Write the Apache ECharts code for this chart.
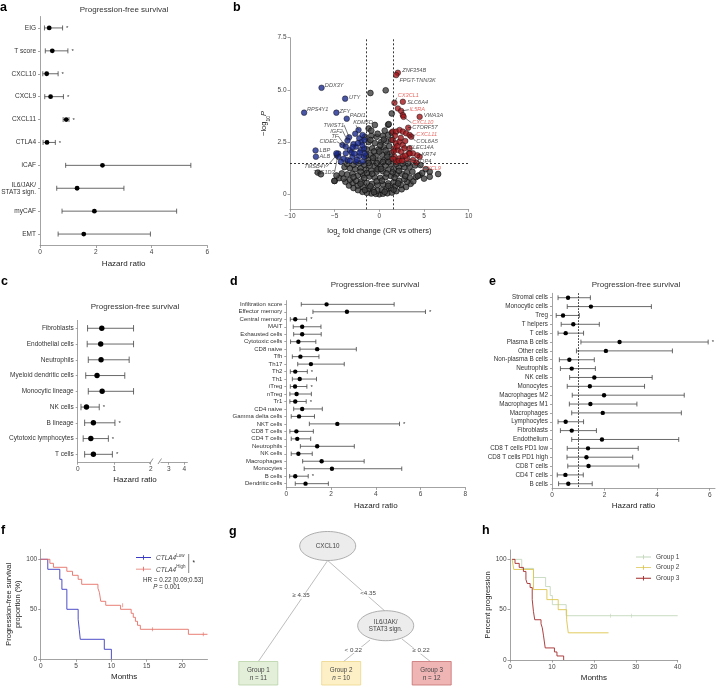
<!DOCTYPE html>
<html lang="en">
<head>
<meta charset="UTF-8">
<title>Progression-free survival figure</title>
<script src="https://cdn.jsdelivr.net/npm/echarts@6.0.0/dist/echarts.min.js"></script>
<style>
html, body { margin: 0; padding: 0; background: #fff; }
#main { width: 723px; height: 686px; }
</style>
</head>
<body>
<div id="main"></div>
<script>
var FONT = 'Liberation Sans';

// ---- panel a : gene signatures
var aNames = ['EIG', 'T score', 'CXCL10', 'CXCL9', 'CXCL11', 'CTLA4', 'iCAF', 'IL6/JAK/\nSTAT3 sign.', 'myCAF', 'EMT'];
var aHR   = [0.33, 0.44, 0.24, 0.38, 0.94, 0.25, 2.24, 1.33, 1.95, 1.57];
var aLow  = [0.16, 0.19, 0.10, 0.17, 0.83, 0.11, 0.92, 0.60, 0.79, 0.65];
var aHigh = [0.81, 1.00, 0.65, 0.84, 1.04, 0.55, 5.41, 3.01, 4.90, 3.96];
var aSig  = [1, 1, 1, 1, 1, 1, 0, 0, 0, 0];

// ---- panel b : volcano
var volcGray = [
  [0, 0], [-0.4, 0.02], [0.4, 0.03], [-0.9, 0.04], [0.9, 0.05], [-1.4, 0.07], [1.4, 0.08], [-1.9, 0.12], [1.9, 0.15], [-2.4, 0.2], [2.5, 0.24], [-2.9, 0.3], [3.0, 0.35], [-3.4, 0.42], [3.5, 0.5],
  [-0.2, 0.18], [0.3, 0.2], [-0.7, 0.22], [0.8, 0.25], [-1.2, 0.28], [1.3, 0.3], [-1.8, 0.34], [1.8, 0.4], [-2.4, 0.42], [2.4, 0.45], [-3.0, 0.55], [3.1, 0.6], [3.8, 0.62], [-3.8, 0.6],
  [-5.0, 0.64], [-4.5, 0.77], [-4.0, 0.75], [-3.3, 0.7], [-2.6, 0.65], [-2.0, 0.62], [-1.4, 0.55], [-0.8, 0.5], [-0.2, 0.45], [0.4, 0.48], [1.0, 0.52], [1.6, 0.58], [2.2, 0.65], [2.8, 0.72], [3.4, 0.8], [4.1, 0.82], [4.5, 0.92],
  [-4.2, 1.0], [-3.6, 0.95], [-3.0, 0.98], [-2.4, 0.9], [-1.8, 0.92], [-1.1, 0.85], [-0.5, 0.8], [0.1, 0.78], [0.7, 0.82], [1.3, 0.88], [1.9, 0.95], [2.5, 0.98], [3.1, 1.05], [3.7, 1.08], [4.8, 1.02], [5.2, 1.2],
  [-3.9, 1.3], [-3.3, 1.25], [-2.7, 1.2], [-2.1, 1.25], [-1.5, 1.18], [-0.9, 1.12], [-0.3, 1.08], [0.4, 1.1], [1.0, 1.18], [1.6, 1.2], [2.2, 1.28], [2.8, 1.3], [3.4, 1.32], [4.0, 1.38], [4.6, 1.4],
  [-3.6, 1.45], [-2.9, 1.42], [-2.3, 1.48], [-1.7, 1.42], [-1.1, 1.38], [-0.5, 1.35], [0.1, 1.32], [0.7, 1.38], [1.3, 1.45], [1.9, 1.46], [2.6, 1.47], [3.2, 1.48],
  [-1.3, 1.65], [-0.7, 1.6], [0, 1.62], [0.6, 1.65], [1.2, 1.7], [-1.0, 1.9], [-0.4, 1.85], [0.3, 1.9], [0.9, 1.95], [1.4, 2.0], [-1.4, 2.15], [-0.8, 2.2], [-0.1, 2.15], [0.5, 2.25], [1.1, 2.3],
  [-1.2, 2.5], [-0.5, 2.45], [0.2, 2.5], [0.8, 2.55], [1.35, 2.6], [-1.6, 2.75], [-0.9, 2.8], [-0.3, 2.75], [0.4, 2.8], [1.0, 2.85], [1.4, 2.95], [-1.2, 3.15], [-0.5, 3.32], [0.98, 3.33], [1.05, 3.36], [1.39, 3.87], [-1.0, 4.85], [0.71, 4.98],
  [-0.6, 0.1], [0.6, 0.12], [-1.6, 0.2], [1.6, 0.22], [-2.1, 0.5], [2.1, 0.52], [-1.0, 0.38], [1.0, 0.4], [-0.3, 0.62], [0.3, 0.65], [-1.7, 0.78], [1.7, 0.8], [-2.9, 0.82], [2.9, 0.88],
  [-0.8, 0.98], [0.8, 1.0], [-1.4, 1.02], [1.5, 1.05], [-2.1, 1.08], [2.2, 1.12], [-0.2, 1.2], [0.2, 1.22], [-1.2, 1.5], [1.0, 1.55], [-0.3, 1.5], [0.4, 1.55],
  [-0.7, 1.75], [0.9, 1.8], [-1.5, 1.85], [0, 2.05], [-0.6, 2.05], [0.7, 2.1], [-0.2, 2.9], [0.6, 3.05], [-0.9, 3.05], [0.1, 2.35], [-1.0, 2.6], [0.5, 2.62],
  [-6.88, 1.04], [-6.54, 0.96], [-5.04, 0.64], [5.64, 1.08], [5.64, 0.84], [6.58, 0.97], [4.3, 0.88], [-4.8, 0.9], [5.0, 0.75]
];
var volcBlue = [
  [-6.47, 5.1], [-3.83, 4.58], [-8.42, 3.91], [-4.81, 3.91], [-3.65, 3.62], [-7.14, 2.1], [-7.1, 1.8], [-4.77, 1.88], [-4.6, 1.95], [-2.33, 3.08],
  [-3.38, 2.73], [-3.57, 2.57], [-4.13, 2.36], [-3.76, 2.28], [-3.31, 2.12], [-2.63, 2.28], [-2.25, 2.68], [-1.88, 2.84], [-2.07, 2.12], [-3.76, 1.96], [-3.01, 1.8], [-2.25, 1.83], [-1.69, 1.8], [-3.57, 1.64], [-2.63, 1.56], [-1.88, 1.56], [-4.59, 1.8], [-4.81, 1.96],
  [-2.9, 2.4], [-2.0, 2.5], [-1.7, 2.2], [-3.1, 2.0], [-2.5, 1.65], [-1.6, 1.95], [-2.2, 2.0], [-3.3, 1.6], [-4.0, 1.7], [-2.7, 2.9], [-1.9, 2.35], [-2.4, 2.45], [-3.0, 2.25], [-1.65, 2.6], [-2.8, 1.95], [-4.3, 1.55]
];
var volcRed = [
  [2.07, 5.82], [1.88, 5.71], [1.69, 4.38], [2.63, 4.43], [2.07, 4.11], [2.44, 3.99], [2.63, 3.79], [2.71, 3.71], [4.51, 3.71], [3.23, 3.19],
  [1.5, 3.0], [1.88, 3.0], [2.26, 3.08], [2.63, 3.0], [3.0, 2.92], [3.38, 2.84], [3.57, 2.76],
  [1.5, 2.6], [1.88, 2.44], [2.26, 2.52], [2.63, 2.36], [1.69, 2.2], [2.07, 2.12], [2.44, 2.04], [2.82, 2.2], [1.69, 1.8], [2.26, 1.72], [2.63, 1.8], [1.88, 1.55], [3.38, 2.2], [3.31, 1.96], [3.76, 1.96], [4.51, 1.8], [4.14, 1.52], [3.76, 1.64], [4.25, 1.87], [3.38, 1.95],
  [1.6, 2.05], [2.0, 2.3], [2.4, 2.7], [1.75, 2.8], [2.9, 2.55], [3.1, 1.7], [2.2, 1.6], [1.55, 1.7], [2.55, 1.6], [2.9, 1.85]
];
// [text, x, y, colour (k/r), align]
var volcLabels = [
  ['ZNF354B', 2.56, 5.95, 'k', 'left'], ['FPGT-TNNI3K', 2.25, 5.47, 'k', 'left'],
  ['DDX3Y', -6.1, 5.2, 'k', 'left'], ['UTY', -3.4, 4.62, 'k', 'left'],
  ['CX3CL1', 2.06, 4.72, 'r', 'left'], ['SLC6A4', 3.12, 4.4, 'k', 'left'],
  ['RPS4Y1', -8.1, 4.08, 'k', 'left'], ['ZFY', -4.45, 3.97, 'k', 'left'],
  ['IL5RA', 3.38, 4.05, 'r', 'left'], ['PADI1', -3.3, 3.78, 'k', 'left'],
  ['VWA3A', 4.96, 3.76, 'k', 'left'], ['TWIST1', -3.95, 3.32, 'k', 'right'],
  ['KDM5D', -2.93, 3.43, 'k', 'left'], ['CXCL10', 3.69, 3.44, 'r', 'left'],
  ['C7ORF57', 3.69, 3.2, 'k', 'left'], ['IGF2', -4.1, 3.03, 'k', 'right'],
  ['TF', -4.6, 2.79, 'k', 'right'], ['CIDEC', -4.75, 2.52, 'k', 'right'],
  ['CXCL11', 4.14, 2.85, 'r', 'left'], ['COL6A5', 4.14, 2.54, 'k', 'left'],
  ['LBP', -6.69, 2.12, 'k', 'left'], ['CLEC14A', 3.3, 2.25, 'k', 'left'],
  ['ALB', -6.69, 1.82, 'k', 'left'], ['KRT4', 4.73, 1.91, 'k', 'left'],
  ['AQP4', 4.14, 1.59, 'k', 'left'], ['TMSB4Y', -5.9, 1.32, 'k', 'right'],
  ['TBC1D3', -5.0, 1.06, 'k', 'right'], ['CXCL9', 4.88, 1.24, 'r', 'left']
];
var volcLeaders = [
  [[1.95, 4.62], [1.69, 4.38]], [[3.3, 4.05], [2.5, 3.99]], [[3.6, 3.42], [2.75, 3.7]],
  [[4.05, 2.85], [3.6, 2.76]], [[4.05, 2.55], [3.38, 2.84]], [[3.2, 2.25], [2.82, 2.2]],
  [[4.65, 1.91], [4.25, 1.87]], [[4.05, 1.6], [3.1, 1.7]], [[4.8, 1.26], [4.14, 1.52]],
  [[3.6, 3.2], [3.23, 3.19]], [[-3.95, 3.32], [-3.38, 2.73]], [[-2.6, 3.3], [-2.33, 3.08]],
  [[-4.1, 3.03], [-3.57, 2.57]], [[-4.6, 2.79], [-3.76, 2.28]], [[-4.75, 2.52], [-4.13, 2.36]],
  [[-5.9, 1.32], [-4.77, 1.88]], [[-5.0, 1.08], [-4.6, 1.95]]
];

// ---- panel c : cell lineages
var cNames = ['Fibroblasts', 'Endothelial cells', 'Neutrophils', 'Myeloid dendritic cells', 'Monocytic lineage', 'NK cells', 'B lineage', 'Cytotoxic lymphocytes', 'T cells'];
var cHR   = [0.66, 0.63, 0.64, 0.53, 0.67, 0.24, 0.43, 0.36, 0.43];
var cLow  = [0.27, 0.26, 0.29, 0.22, 0.29, 0.09, 0.19, 0.15, 0.19];
var cHigh = [1.53, 1.53, 1.41, 1.29, 1.53, 0.59, 1.02, 0.84, 0.95];
var cSig  = [0, 0, 0, 0, 0, 1, 1, 1, 1];

// ---- panel d : immune subsets
var dNames = ['Infiltration score', 'Effector memory', 'Central memory', 'MAIT', 'Exhausted cells', 'Cytotoxic cells', 'CD8 naive', 'Tfh', 'Th17', 'Th2', 'Th1', 'iTreg', 'nTreg', 'Tr1', 'CD4 naive', 'Gamma delta cells', 'NKT cells', 'CD8 T cells', 'CD4 T cells', 'Neutrophils', 'NK cells', 'Macrophages', 'Monocytes', 'B cells', 'Dendritic cells'];
var dHR   = [1.80, 2.71, 0.40, 0.71, 0.71, 0.54, 1.38, 0.63, 1.10, 0.40, 0.60, 0.39, 0.46, 0.40, 0.71, 0.57, 2.28, 0.45, 0.49, 1.38, 0.54, 1.58, 2.04, 0.40, 0.86];
var dLow  = [0.67, 1.19, 0.18, 0.31, 0.33, 0.19, 0.61, 0.27, 0.51, 0.18, 0.27, 0.18, 0.16, 0.16, 0.33, 0.22, 1.03, 0.16, 0.22, 0.63, 0.22, 0.73, 0.80, 0.15, 0.40];
var dHigh = [4.82, 6.22, 0.91, 1.55, 1.56, 1.32, 3.13, 1.46, 2.59, 0.94, 1.35, 0.92, 1.12, 0.89, 1.61, 1.26, 5.06, 1.21, 1.09, 3.04, 1.16, 3.48, 5.16, 0.98, 1.88];
var dSig  = [0, 1, 1, 0, 0, 0, 0, 0, 0, 1, 0, 1, 0, 1, 0, 0, 1, 0, 0, 0, 0, 0, 0, 1, 0];

// ---- panel e : deconvolution
var eNames = ['Stromal cells', 'Monocytic cells', 'Treg', 'T helpers', 'T cells', 'Plasma B cells', 'Other cells', 'Non-plasma B cells', 'Neutrophils', 'NK cells', 'Monocytes', 'Macrophages M2', 'Macrophages M1', 'Macrophages', 'Lymphocytes', 'Fibroblasts', 'Endothelium', 'CD8 T cells PD1 low', 'CD8 T cells PD1 high', 'CD8 T cells', 'CD4 T cells', 'B cells'];
var eHR   = [0.61, 1.48, 0.42, 0.81, 0.52, 2.57, 2.05, 0.66, 0.75, 1.61, 1.44, 1.98, 1.46, 1.93, 0.52, 0.75, 1.90, 1.37, 1.31, 1.39, 0.51, 0.62];
var eLow  = [0.23, 0.58, 0.16, 0.35, 0.23, 1.10, 0.93, 0.28, 0.32, 0.67, 0.58, 0.77, 0.66, 0.75, 0.23, 0.32, 0.75, 0.58, 0.57, 0.60, 0.20, 0.25];
var eHigh = [1.46, 3.78, 1.04, 1.80, 1.20, 5.94, 4.58, 1.61, 1.65, 3.81, 3.52, 5.03, 3.23, 4.92, 1.20, 1.69, 4.82, 3.28, 3.07, 3.30, 1.19, 1.53];
var eSig  = [0, 0, 0, 0, 0, 1, 0, 0, 0, 0, 0, 0, 0, 0, 0, 0, 0, 0, 0, 0, 0, 0];

// ---- panel f : KM by CTLA4
var fLow  = [[0, 100], [1.0, 90], [2.7, 80], [3.0, 70], [3.7, 50], [5.3, 40], [5.45, 30], [5.6, 20], [9.0, 10], [10.0, 0]];
var fHigh = [[0, 100], [1.3, 96], [1.8, 92], [3.7, 88], [4.5, 84], [5.3, 80], [5.8, 75], [8.1, 71], [8.3, 67], [8.5, 58], [9.2, 54], [11.3, 50], [12.8, 46], [13.1, 42], [13.4, 38], [13.7, 34], [14.1, 30], [20.9, 25], [23.6, 25]];
var fCensor = [[11.6, 54], [15.8, 30], [23.0, 25]];

// ---- panel g : tree
var treeSplits = ['CXCL10', 'IL6/JAK/\nSTAT3 sign.'];
var treeRules  = ['≥ 4.35', '<4.35', '< 0.22', '≥ 0.22'];
var treeGroups = ['Group 1', 'Group 2', 'Group 3'];
var treeN      = [11, 10, 12];

// ---- panel h : KM by group
var hG1 = [[0.5, 100], [2.8, 91], [5.6, 82], [8.5, 73], [9.6, 64], [10.1, 55], [13.4, 44], [40, 44]];
var hG2 = [[0.5, 100], [0.9, 90], [5.6, 70], [8.8, 60], [11.5, 50], [13.5, 40], [13.9, 27], [23.5, 27]];
var hG3 = [[0.5, 100], [1.2, 96], [2.2, 92], [3.2, 88], [3.8, 80], [4.1, 76], [4.8, 72], [5.3, 60], [5.6, 48], [5.9, 40], [7.4, 36], [7.7, 32], [8.0, 24], [8.4, 12], [10.6, 8], [11.2, 4], [12.8, 0]];
var hCensor = [[24, 44], [29, 44]];

var kmColors = { 'CTLA4Low': '#3a3ac4', 'CTLA4High': '#e66f66', 'Group 1': '#c3d8bb', 'Group 2': '#dcc54c', 'Group 3': '#a52a2a' };

var chartDom = document.getElementById('main');
var myChart = echarts.init(chartDom, null, { renderer: 'canvas' });

var axisGray = { lineStyle: { color: '#8c8c8c', width: 0.8 } };

function forestData(hr, lo, hi, sig) {
  return hr.map(function (v, i) { return [v, lo[i], hi[i], i, sig[i]]; });
}

// error bar + dot + star
function makeForest(r, cap) {
  return function (params, api) {
    var y = api.value(3);
    var p = api.coord([api.value(0), y]);
    var a = api.coord([api.value(1), y]);
    var b = api.coord([api.value(2), y]);
    var st = { stroke: '#444', lineWidth: 0.8 };
    var kids = [
      { type: 'line', shape: { x1: a[0], y1: a[1], x2: b[0], y2: b[1] }, style: st },
      { type: 'line', shape: { x1: a[0], y1: a[1] - cap, x2: a[0], y2: a[1] + cap }, style: st },
      { type: 'line', shape: { x1: b[0], y1: b[1] - cap, x2: b[0], y2: b[1] + cap }, style: st },
      { type: 'circle', shape: { cx: p[0], cy: p[1], r: r }, style: { fill: '#000' } }
    ];
    if (api.value(4)) {
      kids.push({ type: 'text', x: b[0] + 3.5, y: p[1] + 0.5, style: { text: '*', fontSize: 6, fill: '#333', fontFamily: FONT, verticalAlign: 'middle' } });
    }
    return { type: 'group', children: kids };
  };
}

function valAxis(g, min, max, extra) {
  var ax = {
    gridIndex: g, type: 'value', min: min, max: max,
    axisLine: { show: true, onZero: false, lineStyle: axisGray.lineStyle },
    axisTick: { show: true, length: 2.5, lineStyle: axisGray.lineStyle },
    splitLine: { show: false },
    axisLabel: { fontSize: 6.5, color: '#444', fontFamily: FONT, margin: 3.5 },
    nameTextStyle: { fontSize: 8, color: '#222', fontFamily: FONT }
  };
  for (var k in extra) {
    if (typeof extra[k] === 'object' && ax[k] && !Array.isArray(extra[k])) {
      for (var kk in extra[k]) ax[k][kk] = extra[k][kk];
    } else ax[k] = extra[k];
  }
  return ax;
}

// row axis: value axis whose integer ticks carry the row names
function rowAxis(g, names, fs, show) {
  var idx = names.map(function (n, i) { return i; });
  return {
    gridIndex: g, type: 'value', inverse: true, min: -0.5, max: names.length - 0.5, show: show !== false,
    axisLine: { show: true, onZero: false, lineStyle: axisGray.lineStyle },
    axisTick: { show: true, length: 2, lineStyle: axisGray.lineStyle, customValues: idx },
    axisLabel: {
      customValues: idx, fontSize: fs, color: '#333', fontFamily: FONT, margin: 4, lineHeight: fs + 0.5,
      formatter: function (v) { return names[Math.round(v)]; }
    },
    splitLine: { show: false }
  };
}

function txt(x, y, s, fs, extra) {
  var st = { text: s, fontSize: fs, fill: '#222', fontFamily: FONT, align: 'center', verticalAlign: 'middle' };
  for (var k in extra) st[k] = extra[k];
  return { type: 'text', x: x, y: y, style: st, silent: true };
}

// ---- static texts: panel letters, titles
var graphics = [];
[['a', 0, 8], ['b', 233, 8], ['c', 1, 282], ['d', 230, 282], ['e', 489, 282], ['f', 1, 531], ['g', 229, 532], ['h', 482, 531]].forEach(function (l) {
  graphics.push(txt(l[1], l[2], l[0], 12.5, { fontWeight: 'bold', align: 'left', fill: '#000' }));
});
[[124, 10], [135, 306.7], [375, 284.5], [636, 284.5]].forEach(function (t) {
  graphics.push(txt(t[0], t[1], 'Progression-free survival', 8, { fill: '#333' }));
});
graphics.push(txt(135, 479.5, 'Hazard ratio', 8, { fill: '#222' }));
// broken axis marks on panel c
graphics.push({ type: 'line', shape: { x1: 149.5, y1: 464, x2: 153, y2: 458.5 }, style: { stroke: '#777', lineWidth: 0.8 } });
graphics.push({ type: 'line', shape: { x1: 158, y1: 464, x2: 161.5, y2: 458.5 }, style: { stroke: '#777', lineWidth: 0.8 } });

// panel f annotations
graphics.push({ type: 'line', shape: { x1: 188.7, y1: 554, x2: 188.7, y2: 573 }, style: { stroke: '#555', lineWidth: 0.7 } });
graphics.push(txt(192.5, 563, '*', 6.5, { align: 'left' }));
graphics.push(txt(173, 580.7, 'HR = 0.22 [0.09;0.53]', 6.3, { fill: '#333' }));
graphics.push({ type: 'text', x: 166.7, y: 587.5, silent: true, style: { text: '{i|P} = 0.001', fontSize: 6.3, fill: '#333', fontFamily: FONT, align: 'center', verticalAlign: 'middle', rich: { i: { fontStyle: 'italic', fontSize: 6.3, fontFamily: FONT, fill: '#333' } } } });

// panel g : decision tree
var ell = { fill: '#ececec', stroke: '#9a9a9a', lineWidth: 0.8 };
var lnk = { stroke: '#a0a0a0', lineWidth: 0.7 };
graphics.push({ type: 'line', shape: { x1: 327.7, y1: 560.5, x2: 258.3, y2: 661.5 }, style: lnk });
graphics.push({ type: 'line', shape: { x1: 327.7, y1: 560.5, x2: 384.5, y2: 610.7 }, style: lnk });
graphics.push({ type: 'line', shape: { x1: 370, y1: 640, x2: 343, y2: 662 }, style: lnk });
graphics.push({ type: 'line', shape: { x1: 402, y1: 639, x2: 431, y2: 662 }, style: lnk });
graphics.push({ type: 'ellipse', shape: { cx: 327.7, cy: 546, rx: 28, ry: 14.5 }, style: ell });
graphics.push({ type: 'ellipse', shape: { cx: 385.7, cy: 625.7, rx: 28, ry: 15 }, style: ell });
graphics.push(txt(327.7, 546, treeSplits[0], 6.3, { fill: '#444' }));
graphics.push(txt(385.7, 625.9, treeSplits[1], 6.3, { fill: '#444', lineHeight: 7.5 }));
[[301, 595.7], [368, 593.7], [353.3, 650], [421, 650.7]].forEach(function (p, i) {
  graphics.push(txt(p[0], p[1], treeRules[i], 6.2, { fill: '#444', backgroundColor: '#fff', padding: [0, 1] }));
});
var boxCol = [['#e3efd9', '#b8d2a6'], ['#fdf0c6', '#ecd58a'], ['#efb5b5', '#c57070']];
[258.3, 341.2, 431.7].forEach(function (cx, i) {
  graphics.push({ type: 'rect', shape: { x: cx - 19.5, y: 661.5, width: 39, height: 23.5 }, style: { fill: boxCol[i][0], stroke: boxCol[i][1], lineWidth: 0.8 } });
  graphics.push(txt(cx, 670, treeGroups[i], 6.3, { fill: '#444' }));
  graphics.push({ type: 'text', x: cx, y: 678.3, silent: true, style: { text: '{i|n} = ' + treeN[i], fontSize: 6.3, fill: '#444', fontFamily: FONT, align: 'center', verticalAlign: 'middle', rich: { i: { fontStyle: 'italic', fontSize: 6.3, fontFamily: FONT, fill: '#444' } } } });
});

var legIcon = 'path://M0,4.4h20v1.2h-20z M9.4,2h1.2v6h-1.2z';

function kmSeries(name, g, data) {
  var col = kmColors[name];
  return {
    name: name, type: 'line', step: 'end', xAxisIndex: g, yAxisIndex: g, symbol: 'none', data: data,
    color: col, itemStyle: { color: col }, lineStyle: { width: 0.9, color: col }
  };
}
function legItem(name) {
  return { name: name, icon: legIcon, itemStyle: { color: kmColors[name], borderWidth: 0 } };
}

var option = {
  animation: false,
  backgroundColor: '#fff',
  textStyle: { fontFamily: FONT },
  graphic: graphics,
  legend: [
    {
      left: 136, top: 553, padding: 0, orient: 'vertical', itemWidth: 15, itemHeight: 6, itemGap: 2.6,
      data: [legItem('CTLA4Low'), legItem('CTLA4High')],
      formatter: function (n) { return '{i|CTLA4}{s|' + n.slice(5) + '}'; },
      textStyle: {
        fontSize: 6.5, color: '#444', fontFamily: FONT,
        rich: { i: { fontStyle: 'italic', fontSize: 6.5, fontFamily: FONT, color: '#444', lineHeight: 9, verticalAlign: 'bottom' }, s: { fontSize: 4.5, fontFamily: FONT, color: '#444', lineHeight: 9, verticalAlign: 'top' } }
      }
    },
    {
      left: 636, top: 553.5, padding: 0, orient: 'vertical', itemWidth: 15, itemHeight: 6, itemGap: 3.6,
      data: [legItem('Group 1'), legItem('Group 2'), legItem('Group 3')],
      textStyle: { fontSize: 6.5, color: '#444', fontFamily: FONT }
    }
  ],
  grid: [
    { left: 40, top: 16.5, width: 167.3, height: 229, outerBoundsMode: 'none' },     // a
    { left: 290, top: 37.7, width: 178.7, height: 171.6, outerBoundsMode: 'none' },  // b
    { left: 77.7, top: 320.4, width: 73, height: 141.8, outerBoundsMode: 'none' },   // c (0-2)
    { left: 160.9, top: 320.4, width: 26.5, height: 141.8, outerBoundsMode: 'none' },// c (2.5-4.2)
    { left: 286.3, top: 300.6, width: 179, height: 186.8, outerBoundsMode: 'none' }, // d
    { left: 552, top: 293.3, width: 163, height: 194.9, outerBoundsMode: 'none' },   // e
    { left: 40.7, top: 549.3, width: 166.8, height: 110, outerBoundsMode: 'none' },  // f
    { left: 510, top: 550, width: 167.7, height: 110, outerBoundsMode: 'none' }      // h
  ],
  xAxis: [
    valAxis(0, 0, 6, { interval: 2, name: 'Hazard ratio', nameLocation: 'middle', nameGap: 14 }),
    valAxis(1, -10, 10, {
      interval: 5, name: '{a|log}{s|2}{a| fold change (CR vs others)}', nameLocation: 'middle', nameGap: 18,
      nameTextStyle: { rich: { a: { fontSize: 7.5, fontFamily: FONT, color: '#222', lineHeight: 11, verticalAlign: 'top' }, s: { fontSize: 5, fontFamily: FONT, color: '#222', lineHeight: 11, verticalAlign: 'bottom' } } },
      axisLabel: { formatter: function (v) { return v < 0 ? '\u2212' + Math.abs(v) : String(v); } }
    }),
    valAxis(2, 0, 2, { interval: 1 }),
    valAxis(3, 2.5, 4.2, { axisLabel: { customValues: [3, 4] }, axisTick: { customValues: [3, 4] } }),
    valAxis(4, 0, 8, { interval: 2, name: 'Hazard ratio', nameLocation: 'middle', nameGap: 14 }),
    valAxis(5, 0, 6.2, { name: 'Hazard ratio', nameLocation: 'middle', nameGap: 14, axisLabel: { customValues: [0, 2, 4, 6] }, axisTick: { customValues: [0, 2, 4, 6] } }),
    valAxis(6, 0, 23.6, { name: 'Months', nameLocation: 'middle', nameGap: 13, axisLabel: { customValues: [0, 5, 10, 15, 20] }, axisTick: { customValues: [0, 5, 10, 15, 20] } }),
    valAxis(7, 0, 40, { interval: 10, name: 'Months', nameLocation: 'middle', nameGap: 14 })
  ],
  yAxis: [
    rowAxis(0, aNames, 6.5),
    valAxis(1, -0.72, 7.5, {
      name: '{a|\u2212log}{s|10}{i|P}', nameLocation: 'middle', nameGap: 19, nameRotate: 90,
      nameTextStyle: { rich: { a: { fontSize: 7.5, fontFamily: FONT, color: '#222', lineHeight: 11, verticalAlign: 'top' }, s: { fontSize: 5, fontFamily: FONT, color: '#222', lineHeight: 11, verticalAlign: 'bottom' }, i: { fontSize: 7.5, fontStyle: 'italic', fontFamily: FONT, color: '#222', lineHeight: 11, verticalAlign: 'top' } } },
      axisLabel: { customValues: [0, 2.5, 5, 7.5], formatter: function (v) { return v === 0 ? '0' : v.toFixed(1); } },
      axisTick: { customValues: [0, 2.5, 5, 7.5] }
    }),
    rowAxis(2, cNames, 6.5),
    rowAxis(3, cNames, 6.5, false),
    rowAxis(4, dNames, 6),
    rowAxis(5, eNames, 6.3),
    valAxis(6, 0, 110, {
      name: 'Progression-free survival\nproportion (%)', nameLocation: 'middle', nameGap: 17, nameRotate: 90,
      nameTextStyle: { fontSize: 7.5, lineHeight: 9 },
      axisLabel: { customValues: [0, 50, 100] }, axisTick: { customValues: [0, 50, 100] }
    }),
    valAxis(7, 0, 109.3, {
      name: 'Percent progression', nameLocation: 'middle', nameGap: 15, nameRotate: 90,
      nameTextStyle: { fontSize: 7.5 },
      axisLabel: { customValues: [0, 50, 100] }, axisTick: { customValues: [0, 50, 100] }
    })
  ],
  series: [
    // a
    { type: 'custom', xAxisIndex: 0, yAxisIndex: 0, renderItem: makeForest(2.4, 2.5), encode: { x: [0, 1, 2], y: 3 }, data: forestData(aHR, aLow, aHigh, aSig) },
    // b
    {
      type: 'scatter', xAxisIndex: 1, yAxisIndex: 1, symbolSize: 5.8, data: volcGray,
      itemStyle: { color: '#404040', borderColor: '#000', borderWidth: 0.7 },
      markLine: {
        silent: true, symbol: 'none', label: { show: false },
        lineStyle: { type: [2, 2], color: '#222', width: 0.9 },
        data: [{ xAxis: -1.5 }, { xAxis: 1.5 }, { yAxis: 1.5 }]
      }
    },
    { type: 'scatter', xAxisIndex: 1, yAxisIndex: 1, symbolSize: 5.6, data: volcBlue, itemStyle: { color: '#1c2a8e', borderColor: '#111', borderWidth: 0.6 } },
    { type: 'scatter', xAxisIndex: 1, yAxisIndex: 1, symbolSize: 5.6, data: volcRed, itemStyle: { color: '#a3161b', borderColor: '#111', borderWidth: 0.6 } },
    {
      type: 'lines', coordinateSystem: 'cartesian2d', xAxisIndex: 1, yAxisIndex: 1, silent: true, z: 4,
      lineStyle: { color: '#222', width: 0.6, opacity: 1 },
      data: volcLeaders.map(function (l) { return { coords: l }; })
    },
    {
      type: 'scatter', xAxisIndex: 1, yAxisIndex: 1, symbolSize: 1, silent: true, z: 5,
      itemStyle: { color: 'rgba(0,0,0,0)' },
      data: volcLabels.map(function (l) {
        return {
          value: [l[1], l[2]],
          label: { show: true, position: 'inside', formatter: l[0], align: l[4], verticalAlign: 'middle', color: l[3] === 'r' ? '#e2453d' : '#222', fontSize: 5.6, fontStyle: 'italic', fontFamily: FONT }
        };
      })
    },
    // c
    { type: 'custom', xAxisIndex: 2, yAxisIndex: 2, renderItem: makeForest(2.7, 3.2), encode: { x: [0, 1, 2], y: 3 }, data: forestData(cHR, cLow, cHigh, cSig) },
    // d
    { type: 'custom', xAxisIndex: 4, yAxisIndex: 4, renderItem: makeForest(2.2, 2.2), encode: { x: [0, 1, 2], y: 3 }, data: forestData(dHR, dLow, dHigh, dSig) },
    // e
    {
      type: 'custom', xAxisIndex: 5, yAxisIndex: 5, renderItem: makeForest(2.2, 2.4), encode: { x: [0, 1, 2], y: 3 }, data: forestData(eHR, eLow, eHigh, eSig),
      markLine: { silent: true, symbol: 'none', label: { show: false }, lineStyle: { type: [1.5, 1.5], color: '#222', width: 1 }, data: [{ xAxis: 1 }] }
    },
    // f
    kmSeries('CTLA4Low', 6, fLow),
    kmSeries('CTLA4High', 6, fHigh),
    { type: 'scatter', xAxisIndex: 6, yAxisIndex: 6, symbol: 'rect', symbolSize: [0.8, 4], data: fCensor, itemStyle: { color: '#e66f66' } },
    // h
    kmSeries('Group 1', 7, hG1),
    kmSeries('Group 2', 7, hG2),
    kmSeries('Group 3', 7, hG3),
    { type: 'scatter', xAxisIndex: 7, yAxisIndex: 7, symbol: 'rect', symbolSize: [0.8, 4], data: hCensor, itemStyle: { color: '#c3d8bb' } }
  ]
};
option && myChart.setOption(option);
</script>
</body>
</html>
